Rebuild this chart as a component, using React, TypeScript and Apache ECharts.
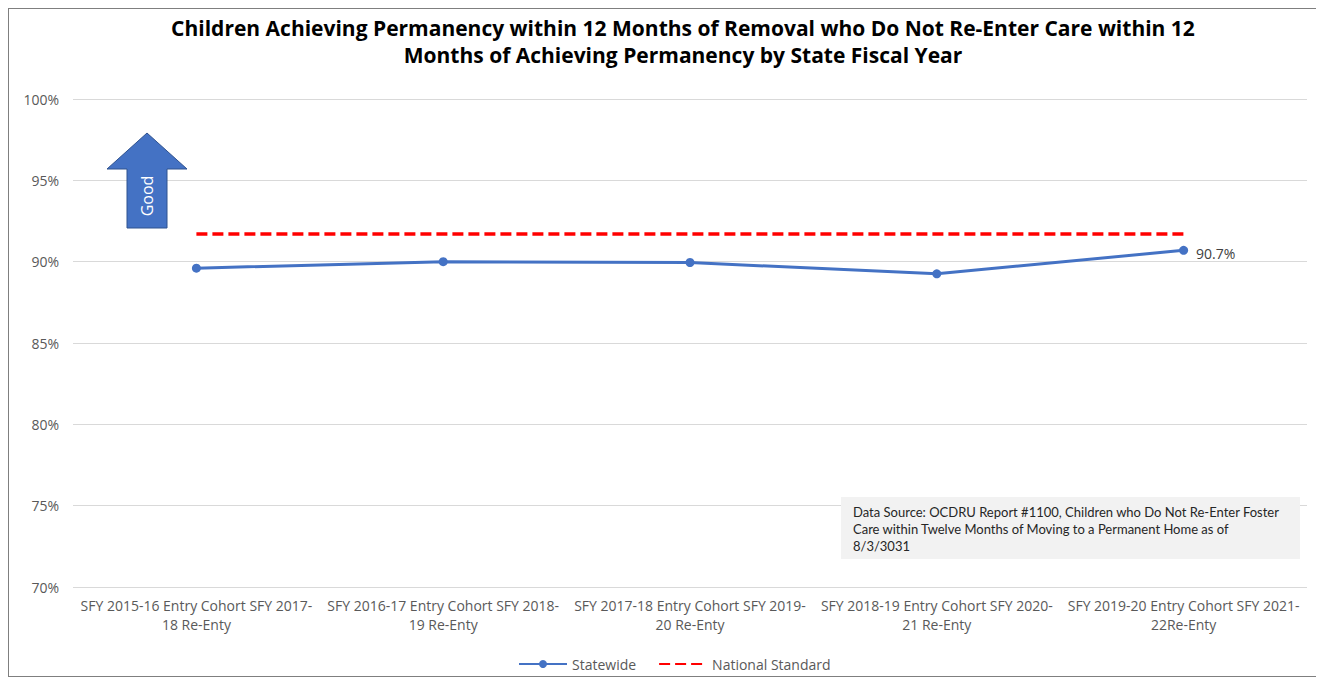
import React, { useEffect, useRef } from "react";
import * as echarts from "echarts";

const TITLE =
  "Children Achieving Permanency within 12 Months of Removal who Do Not Re-Enter Care within 12\nMonths of Achieving Permanency by State Fiscal Year";

const categories = [
  "SFY 2015-16 Entry Cohort SFY 2017-18 Re-Enty",
  "SFY 2016-17 Entry Cohort SFY 2018-19 Re-Enty",
  "SFY 2017-18 Entry Cohort SFY 2019-20 Re-Enty",
  "SFY 2018-19 Entry Cohort SFY 2020-21 Re-Enty",
  "SFY 2019-20 Entry Cohort SFY 2021-22Re-Enty",
];

const statewide = [89.6, 90.0, 89.95, 89.25, 90.7];
const nationalStandard = [91.7, 91.7, 91.7, 91.7, 91.7];

const SOURCE_TEXT =
  "Data Source: OCDRU Report #1100, Children who Do Not Re-Enter Foster\nCare within Twelve Months of Moving to a Permanent Home as of\n8/3/3031";

const FONT = "Open Sans";
const FONT2 = "Lato";

export default function App() {
  const ref = useRef<HTMLDivElement>(null);

  useEffect(() => {
    if (!ref.current) return;
    const chart = echarts.init(ref.current, undefined, { renderer: "svg" });
    const last = statewide.length - 1;
    chart.setOption({
      animation: false,
      textStyle: { fontFamily: FONT },
      title: {
        text: TITLE,
        left: 669,
        textAlign: "center",
        top: 0,
        textStyle: {
          fontFamily: FONT,
          fontSize: 21,
          fontWeight: "bold",
          color: "#000",
          lineHeight: 27,
        },
      },
      legend: {
        bottom: 0,
        left: 504,
        itemWidth: 48,
        itemHeight: 10,
        itemGap: 22,
        textStyle: { fontFamily: FONT, fontSize: 14, color: "#595959" },
        data: [
          { name: "Statewide" },
          { name: "National Standard", itemStyle: { opacity: 0 } },
        ],
      },
      grid: { left: 64, right: 16, top: 90, bottom: 89 },
      xAxis: {
        type: "category",
        data: categories,
        boundaryGap: true,
        axisLine: { show: false },
        axisTick: { show: false },
        axisLabel: {
          interval: 0,
          margin: 9,
          fontFamily: FONT,
          fontSize: 14,
          color: "#595959",
          lineHeight: 19,
          formatter: (v: string) => v.replace(/(Cohort SFY \d{4}-)/, "$1\n"),
        },
      },
      yAxis: {
        type: "value",
        min: 70,
        max: 100,
        interval: 5,
        axisLine: { show: false },
        axisTick: { show: false },
        axisLabel: {
          formatter: "{value}%",
          fontFamily: FONT,
          fontSize: 14,
          color: "#595959",
          margin: 14,
        },
        splitLine: { lineStyle: { color: "#D9D9D9", width: 1 } },
      },
      series: [
        {
          name: "Statewide",
          type: "line",
          data: statewide.map((v, i) =>
            i === last
              ? {
                  value: v,
                  label: {
                    show: true,
                    position: "right",
                    distance: 8,
                    offset: [0, 3],
                    formatter: (p: any) => p.value.toFixed(1) + "%",
                    fontFamily: FONT,
                    fontSize: 14,
                    color: "#404040",
                  },
                }
              : v
          ),
          symbol: "circle",
          symbolSize: 9,
          lineStyle: { color: "#4472C4", width: 3 },
          itemStyle: { color: "#4472C4" },
          z: 3,
        },
        {
          name: "National Standard",
          type: "line",
          data: nationalStandard,
          symbol: "none",
          lineStyle: { color: "#FF0000", width: 3.5, type: [11, 5] },
          itemStyle: { color: "#FF0000" },
          z: 2,
        },
      ],
      graphic: [
        {
          type: "polygon",
          shape: {
            points: [
              [138, 124],
              [178, 160],
              [158, 160],
              [158, 219],
              [118, 219],
              [118, 160],
              [98, 160],
            ],
          },
          style: { fill: "#4472C4", stroke: "#2F528F", lineWidth: 1 },
          z: 10,
        },
        {
          type: "text",
          x: 138,
          y: 187,
          rotation: Math.PI / 2,
          style: {
            text: "Good",
            fill: "#FFFFFF",
            fontFamily: FONT,
            fontSize: 16,
            align: "center",
            verticalAlign: "middle",
          },
          z: 11,
        },
        {
          type: "rect",
          shape: { x: 832, y: 488, width: 459, height: 62 },
          style: { fill: "#F2F2F2" },
          z: 10,
        },
        {
          type: "text",
          x: 844,
          y: 494,
          style: {
            text: SOURCE_TEXT,
            fill: "#262626",
            fontFamily: FONT2,
            fontSize: 13,
            lineHeight: 17,
          },
          z: 11,
        },
      ],
    });
    return () => chart.dispose();
  }, []);

  return (
    <div
      style={{
        width: 1316,
        height: 669,
        border: "1px solid #7F7F7F",
        boxSizing: "border-box",
      }}
    >
      <div ref={ref} style={{ width: 1314, height: 667 }} />
    </div>
  );
}
